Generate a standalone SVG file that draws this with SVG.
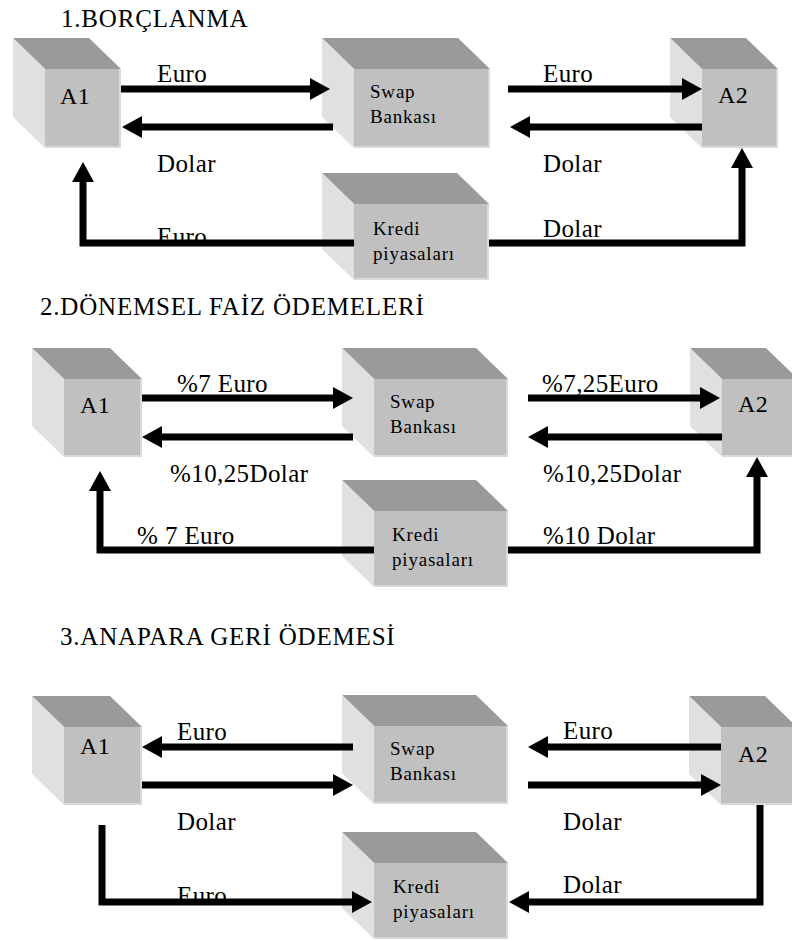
<svg xmlns="http://www.w3.org/2000/svg" width="792" height="941" viewBox="0 0 792 941">
<style>
.top{fill:#9a9a9a}
.side{fill:#e0e0e0}
.front{fill:#c0c0c0}
.edge{fill:none;stroke:#d9d9d9;stroke-width:2}
.ttl{font-family:"Liberation Serif","Times New Roman",serif;font-size:25px;letter-spacing:0.8px;fill:#000}
.lbl{font-family:"Liberation Serif","Times New Roman",serif;font-size:25px;letter-spacing:0.4px;fill:#000}
.nm{font-family:"Liberation Serif","Times New Roman",serif;font-size:24px;letter-spacing:0.3px;fill:#000}
.sm{font-family:"Liberation Serif","Times New Roman",serif;font-size:19px;letter-spacing:0.8px;fill:#000}
.conn{fill:none;stroke:#000;stroke-width:7;stroke-linejoin:miter;stroke-linecap:butt;marker-end:url(#ah)}
</style>
<defs>
<marker id="ah" markerUnits="userSpaceOnUse" markerWidth="20" markerHeight="22" refX="2" refY="11" orient="auto">
<path d="M0,0 L20,11 L0,22 Z" fill="#000"/>
</marker>
</defs>
<rect width="792" height="941" fill="#fff"/>

<g id="titles">
<text class="ttl" x="61" y="27">1.BORÇLANMA</text>
<text class="ttl" x="40" y="315">2.DÖNEMSEL FAİZ ÖDEMELERİ</text>
<text class="ttl" x="60" y="645">3.ANAPARA GERİ ÖDEMESİ</text>
</g>

<!-- Section 1 -->
<g id="s1-A1">
<polygon class="top" points="13,38 89,38 121,69 45,69"/>
<polygon class="side" points="13,38 45,69 45,148 13,117"/>
<rect class="front" x="45" y="69" width="76" height="79"/>
<polyline class="edge" points="120,69 120,147 45,147"/>
<text class="nm" x="60" y="104">A1</text>
</g>
<g id="s1-swap">
<polygon class="top" points="322,38 458,38 490,69 354,69"/>
<polygon class="side" points="322,38 354,69 354,148 322,117"/>
<rect class="front" x="354" y="69" width="136" height="79"/>
<polyline class="edge" points="489,69 489,147 354,147"/>
<text class="sm" x="370" y="98">Swap</text>
<text class="sm" x="370" y="123">Bankası</text>
</g>
<g id="s1-A2">
<polygon class="top" points="670,38 746,38 778,69 702,69"/>
<polygon class="side" points="670,38 702,69 702,148 670,117"/>
<rect class="front" x="702" y="69" width="76" height="79"/>
<polyline class="edge" points="777,69 777,147 702,147"/>
<text class="nm" x="718" y="103">A2</text>
</g>
<g id="s1-kredi">
<polygon class="top" points="322,173 457,173 489,204 354,204"/>
<polygon class="side" points="322,173 354,204 354,280 322,249"/>
<rect class="front" x="354" y="204" width="135" height="76"/>
<polyline class="edge" points="488,204 488,279 354,279"/>
<text class="sm" x="373" y="235">Kredi</text>
<text class="sm" x="373" y="260">piyasaları</text>
</g>

<!-- Section 2 -->
<g id="s2-A1">
<polygon class="top" points="32,348 110,348 142,379 64,379"/>
<polygon class="side" points="32,348 64,379 64,457 32,426"/>
<rect class="front" x="64" y="379" width="78" height="78"/>
<polyline class="edge" points="141,379 141,456 64,456"/>
<text class="nm" x="80" y="413">A1</text>
</g>
<g id="s2-swap">
<polygon class="top" points="342,348 476,348 508,379 374,379"/>
<polygon class="side" points="342,348 374,379 374,457 342,426"/>
<rect class="front" x="374" y="379" width="134" height="78"/>
<polyline class="edge" points="507,379 507,456 374,456"/>
<text class="sm" x="390" y="408">Swap</text>
<text class="sm" x="390" y="433">Bankası</text>
</g>
<g id="s2-A2">
<polygon class="top" points="690,348 766,348 798,379 722,379"/>
<polygon class="side" points="690,348 722,379 722,457 690,426"/>
<rect class="front" x="722" y="379" width="76" height="78"/>
<polyline class="edge" points="722,456 798,456"/>
<text class="nm" x="738" y="412">A2</text>
</g>
<g id="s2-kredi">
<polygon class="top" points="342,480 476,480 508,511 374,511"/>
<polygon class="side" points="342,480 374,511 374,587 342,556"/>
<rect class="front" x="374" y="511" width="134" height="76"/>
<polyline class="edge" points="507,511 507,586 374,586"/>
<text class="sm" x="392" y="541">Kredi</text>
<text class="sm" x="392" y="566">piyasaları</text>
</g>

<!-- Section 3 -->
<g id="s3-A1">
<polygon class="top" points="32,696 110,696 142,727 64,727"/>
<polygon class="side" points="32,696 64,727 64,805 32,774"/>
<rect class="front" x="64" y="727" width="78" height="78"/>
<polyline class="edge" points="141,727 141,804 64,804"/>
<text class="nm" x="80" y="754">A1</text>
</g>
<g id="s3-swap">
<polygon class="top" points="342,695 476,695 508,726 374,726"/>
<polygon class="side" points="342,695 374,726 374,804 342,773"/>
<rect class="front" x="374" y="726" width="134" height="78"/>
<polyline class="edge" points="507,726 507,803 374,803"/>
<text class="sm" x="390" y="755">Swap</text>
<text class="sm" x="390" y="780">Bankası</text>
</g>
<g id="s3-A2">
<polygon class="top" points="689,696 765,696 797,727 721,727"/>
<polygon class="side" points="689,696 721,727 721,805 689,774"/>
<rect class="front" x="721" y="727" width="76" height="78"/>
<polyline class="edge" points="721,804 797,804"/>
<text class="nm" x="738" y="762">A2</text>
</g>
<g id="s3-kredi">
<polygon class="top" points="342,832 476,832 508,863 374,863"/>
<polygon class="side" points="342,832 374,863 374,939 342,908"/>
<rect class="front" x="374" y="863" width="134" height="76"/>
<polyline class="edge" points="507,863 507,938 374,938"/>
<text class="sm" x="393" y="893">Kredi</text>
<text class="sm" x="393" y="918">piyasaları</text>
</g>

<g id="labels">
<text class="lbl" x="157" y="82">Euro</text>
<text class="lbl" x="157" y="172">Dolar</text>
<text class="lbl" x="543" y="82">Euro</text>
<text class="lbl" x="543" y="172">Dolar</text>
<text class="lbl" x="157" y="245">Euro</text>
<text class="lbl" x="543" y="237">Dolar</text>

<text class="lbl" x="177" y="392">%7 Euro</text>
<text class="lbl" x="542" y="392">%7,25Euro</text>
<text class="lbl" x="170" y="482">%10,25Dolar</text>
<text class="lbl" x="543" y="482">%10,25Dolar</text>
<text class="lbl" x="137" y="544">% 7 Euro</text>
<text class="lbl" x="543" y="544">%10 Dolar</text>

<text class="lbl" x="177" y="740">Euro</text>
<text class="lbl" x="177" y="830">Dolar</text>
<text class="lbl" x="563" y="739">Euro</text>
<text class="lbl" x="563" y="830">Dolar</text>
<text class="lbl" x="177" y="904">Euro</text>
<text class="lbl" x="563" y="893">Dolar</text>
</g>

<g id="connectors">
<path class="conn" d="M121,89 H312"/>
<path class="conn" d="M333,127 H140"/>
<path class="conn" d="M508,89 H684"/>
<path class="conn" d="M702,127 H528"/>
<path class="conn" d="M354,243 H83 V180"/>
<path class="conn" d="M489,243 H742 V166"/>

<path class="conn" d="M142,398 H335"/>
<path class="conn" d="M353,437 H160"/>
<path class="conn" d="M528,398 H702"/>
<path class="conn" d="M722,437 H546"/>
<path class="conn" d="M374,550 H100 V489"/>
<path class="conn" d="M508,550 H757 V475"/>

<path class="conn" d="M353,747 H160"/>
<path class="conn" d="M142,785 H335"/>
<path class="conn" d="M721,747 H546"/>
<path class="conn" d="M528,785 H703"/>
<path class="conn" d="M102,825 V902 H354"/>
<path class="conn" d="M760,805 V902 H527"/>
</g>
</svg>
